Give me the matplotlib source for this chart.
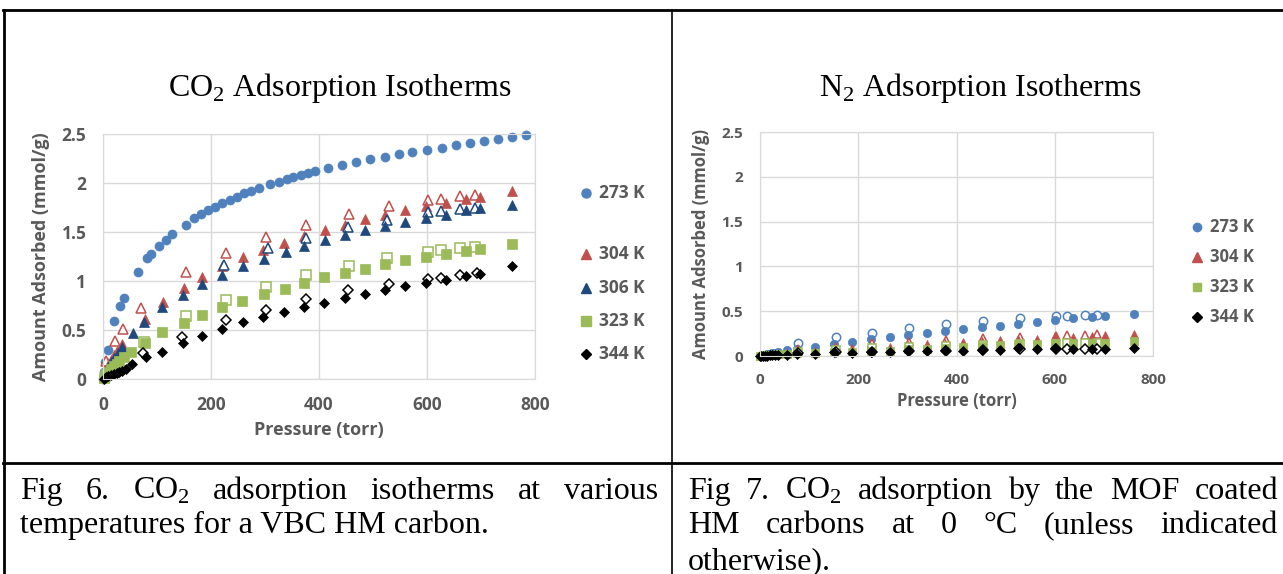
import matplotlib
matplotlib.use("Agg")
import matplotlib.pyplot as plt
from matplotlib.lines import Line2D

plt.rcParams['mathtext.fontset'] = 'custom'
plt.rcParams['mathtext.rm'] = 'Liberation Serif'

W, H = 1283, 574

# ---------- CO2 data (left chart) ----------
co2_273_p = [0, 2, 4, 10, 21, 31, 38, 64, 82, 88, 103, 116, 128, 153, 169, 181, 195, 208, 221, 235, 248,
             261, 274, 288, 310, 325, 340, 352, 366, 380, 392, 417, 443, 469, 495, 522, 548, 573, 600,
             627, 653, 680, 705, 732, 758, 784]
co2_273_q = [0.0, 0.07, 0.17, 0.30, 0.59, 0.74, 0.83, 1.09, 1.23, 1.28, 1.36, 1.42, 1.48, 1.57, 1.64, 1.68,
             1.72, 1.76, 1.80, 1.83, 1.86, 1.90, 1.92, 1.95, 1.99, 2.01, 2.04, 2.06, 2.08, 2.10, 2.12, 2.15,
             2.18, 2.21, 2.24, 2.27, 2.30, 2.32, 2.34, 2.36, 2.39, 2.41, 2.43, 2.45, 2.47, 2.49]

co2_304_p = [1, 3, 6, 10, 15, 20, 26, 36, 77, 112, 150, 183, 221, 259, 296, 336, 372, 411, 448, 485, 522,
             560, 598, 635, 672, 699, 758]
co2_304_q = [0.02, 0.05, 0.09, 0.14, 0.19, 0.24, 0.29, 0.36, 0.61, 0.79, 0.93, 1.04, 1.15, 1.24, 1.32, 1.39,
             1.46, 1.52, 1.57, 1.63, 1.67, 1.72, 1.77, 1.80, 1.84, 1.86, 1.92]
co2_304o_p = [5, 22, 37, 71, 153, 227, 301, 376, 455, 530, 602, 626, 662, 689]
co2_304o_q = [0.18, 0.39, 0.51, 0.72, 1.09, 1.29, 1.45, 1.57, 1.68, 1.77, 1.83, 1.84, 1.87, 1.88]

co2_306_p = [1, 3, 6, 10, 15, 20, 27, 35, 56, 76, 110, 149, 183, 221, 259, 298, 338, 372, 411, 448, 485,
             522, 560, 598, 635, 673, 699, 758]
co2_306_q = [0.02, 0.04, 0.08, 0.12, 0.17, 0.21, 0.27, 0.33, 0.47, 0.58, 0.73, 0.86, 0.97, 1.06, 1.15, 1.22,
             1.30, 1.36, 1.42, 1.47, 1.52, 1.56, 1.60, 1.64, 1.67, 1.72, 1.74, 1.78]
co2_306o_p = [224, 306, 376, 454, 525, 602, 625, 661, 689]
co2_306o_q = [1.16, 1.34, 1.44, 1.55, 1.62, 1.70, 1.71, 1.73, 1.75]

co2_323_p = [1, 3, 6, 10, 15, 20, 25, 30, 38, 52, 78, 110, 150, 183, 220, 258, 298, 337, 372, 410, 448,
             485, 522, 560, 598, 635, 673, 699, 758]
co2_323_q = [0.01, 0.03, 0.05, 0.07, 0.10, 0.13, 0.15, 0.18, 0.22, 0.28, 0.37, 0.48, 0.57, 0.65, 0.73, 0.80,
             0.87, 0.92, 0.98, 1.04, 1.08, 1.12, 1.17, 1.21, 1.25, 1.28, 1.31, 1.33, 1.38]
co2_323o_p = [75, 153, 227, 301, 376, 455, 525, 602, 626, 662, 689]
co2_323o_q = [0.38, 0.64, 0.81, 0.94, 1.06, 1.15, 1.23, 1.30, 1.32, 1.34, 1.35]

co2_344_p = [1, 3, 6, 10, 15, 20, 25, 30, 36, 42, 54, 80, 109, 149, 184, 221, 259, 296, 336, 372, 410,
             448, 485, 522, 560, 598, 635, 673, 699, 758]
co2_344_q = [0.0, 0.01, 0.02, 0.03, 0.04, 0.05, 0.06, 0.07, 0.08, 0.10, 0.15, 0.22, 0.28, 0.37, 0.44, 0.51,
             0.58, 0.63, 0.68, 0.73, 0.78, 0.83, 0.87, 0.91, 0.95, 0.98, 1.01, 1.05, 1.07, 1.15]
co2_344o_p = [74, 147, 227, 301, 376, 454, 530, 602, 626, 662, 692]
co2_344o_q = [0.27, 0.43, 0.60, 0.70, 0.82, 0.91, 0.97, 1.02, 1.03, 1.06, 1.08]

# ---------- N2 data (right chart) ----------
n2_p = [0, 3, 6, 10, 15, 20, 25, 30, 37, 54, 75, 112, 151, 188, 226, 264, 302, 339, 376, 414, 451, 488,
        525, 563, 600, 637, 675, 702, 761]
n2_273_q = [0, 0.005, 0.01, 0.015, 0.02, 0.025, 0.03, 0.035, 0.04, 0.07, 0.08, 0.10, 0.13, 0.16, 0.19,
            0.21, 0.23, 0.26, 0.28, 0.30, 0.32, 0.34, 0.36, 0.38, 0.40, 0.42, 0.43, 0.45, 0.47]
n2_304_q = [0, 0.003, 0.006, 0.01, 0.013, 0.016, 0.02, 0.023, 0.027, 0.035, 0.05, 0.06, 0.08, 0.09, 0.10,
            0.10, 0.12, 0.13, 0.14, 0.16, 0.17, 0.18, 0.19, 0.19, 0.22, 0.21, 0.22, 0.23, 0.25]
n2_323_q = [0, 0.002, 0.004, 0.006, 0.008, 0.01, 0.012, 0.014, 0.017, 0.022, 0.03, 0.03, 0.05, 0.05, 0.06,
            0.06, 0.08, 0.08, 0.09, 0.10, 0.11, 0.12, 0.13, 0.13, 0.14, 0.14, 0.15, 0.15, 0.17]
n2_344_q = [0, 0.001, 0.002, 0.004, 0.005, 0.006, 0.008, 0.009, 0.01, 0.015, 0.02, 0.02, 0.05, 0.03, 0.05,
            0.04, 0.06, 0.06, 0.07, 0.06, 0.07, 0.07, 0.09, 0.08, 0.085, 0.075, 0.08, 0.08, 0.09]
n2o_p = [78, 154, 228, 303, 378, 453, 529, 602, 624, 661, 686]
n2_273o_q = [0.15, 0.21, 0.26, 0.31, 0.36, 0.39, 0.42, 0.45, 0.45, 0.46, 0.46]
n2_304o_q = [0.08, 0.10, 0.14, 0.16, 0.18, 0.20, 0.21, 0.22, 0.23, 0.23, 0.24]
n2_323o_q = [0.05, 0.07, 0.09, 0.10, 0.11, 0.12, 0.13, 0.13, 0.14, 0.14, 0.15]
n2_344o_q = [0.03, 0.04, 0.05, 0.06, 0.06, 0.07, 0.08, 0.08, 0.08, 0.08, 0.08]

BLUE = '#4F81BD'
RED = '#C0504D'
NAVY = '#1F497D'
GREEN = '#9BBB59'
BLACK = '#000000'
GRAY = '#595959'
GRID = '#D9D9D9'
AXFONT = 'Open Sans'
SERIF = 'Liberation Serif'


def fx(px):
    return px / W


def fy(py):
    return 1 - py / H


def style_axes(ax, fs, pad):
    ax.set_xlim(0, 800)
    ax.set_ylim(0, 2.5)
    ax.set_xticks([0, 200, 400, 600, 800])
    ax.set_yticks([0, 0.5, 1, 1.5, 2, 2.5])
    ax.set_yticklabels(['0', '0.5', '1', '1.5', '2', '2.5'])
    ax.grid(True, color=GRID, linewidth=1)
    ax.set_axisbelow(True)
    for s in ax.spines.values():
        s.set_color(GRID)
    ax.tick_params(length=0, labelsize=fs, labelcolor=GRAY, pad=pad)
    for lab in ax.get_xticklabels() + ax.get_yticklabels():
        lab.set_fontfamily(AXFONT)
        lab.set_fontweight('bold')


def pts(ax, x, y, marker, color, ms, hollow=False):
    if hollow:
        ax.plot(x, y, linestyle='none', marker=marker, markersize=ms, markerfacecolor='white',
                markeredgecolor=color, markeredgewidth=1.1, clip_on=False)
    else:
        ax.plot(x, y, linestyle='none', marker=marker, markersize=ms, markerfacecolor=color,
                markeredgecolor=color, markeredgewidth=0.5, clip_on=False)


def legend_entry(fig, x, y, marker, color, ms, label, fs):
    fig.add_artist(Line2D([fx(x)], [fy(y)], marker=marker, markersize=ms, color=color,
                          linestyle='none', transform=fig.transFigure))
    fig.text(fx(x + 13), fy(y), label, fontsize=fs, fontweight='bold', color=GRAY,
             family=AXFONT, va='center', ha='left')


def justify(fig, words, x0, x1, y, fs):
    texts = [fig.text(0, fy(y), w, fontsize=fs, family=SERIF, va='baseline') for w in words]
    renderer = fig.canvas.get_renderer()
    widths = [t.get_window_extent(renderer).width for t in texts]
    gap = (x1 - x0 - sum(widths)) / max(len(words) - 1, 1)
    x = x0
    for t, w in zip(texts, widths):
        t.set_x(fx(x))
        x += w + gap


fig = plt.figure(figsize=(W / 100, H / 100), dpi=100)

# ---------- left chart ----------
ax1 = fig.add_axes([fx(103), fy(379), fx(535) - fx(103), fy(134) - fy(379)])
style_axes(ax1, 12.5, 12)
pts(ax1, co2_273_p, co2_273_q, 'o', BLUE, 6.5)
pts(ax1, co2_304o_p, co2_304o_q, '^', RED, 7, hollow=True)
pts(ax1, co2_304_p, co2_304_q, '^', RED, 7.5)
pts(ax1, co2_306o_p, co2_306o_q, '^', NAVY, 7, hollow=True)
pts(ax1, co2_306_p, co2_306_q, '^', NAVY, 7.5)
pts(ax1, co2_323o_p, co2_323o_q, 's', GREEN, 6.5, hollow=True)
pts(ax1, co2_323_p, co2_323_q, 's', GREEN, 6.5)
pts(ax1, co2_344o_p, co2_344o_q, 'D', BLACK, 5.5, hollow=True)
pts(ax1, co2_344_p, co2_344_q, 'D', BLACK, 5.5)
ax1.set_xlabel('Pressure (torr)', fontsize=13, fontweight='bold', color=GRAY, family=AXFONT, labelpad=5)
ax1.set_ylabel('Amount Adsorbed (mmol/g)', fontsize=13, fontweight='bold', color=GRAY, family=AXFONT,
               labelpad=8)
fig.text(fx(340), fy(88), 'CO$_\\mathrm{2}$ Adsorption Isotherms', fontsize=23, family=SERIF,
         ha='center', va='center')

legend_entry(fig, 586, 193, 'o', BLUE, 6.5, '273 K', 12.5)
legend_entry(fig, 586, 254, '^', RED, 7, '304 K', 12.5)
legend_entry(fig, 586, 288, '^', NAVY, 7, '306 K', 12.5)
legend_entry(fig, 586, 321, 's', GREEN, 6.5, '323 K', 12.5)
legend_entry(fig, 586, 354, 'D', BLACK, 5.5, '344 K', 12.5)

# ---------- right chart ----------
ax2 = fig.add_axes([fx(760), fy(356), fx(1153) - fx(760), fy(132) - fy(356)])
style_axes(ax2, 11, 12)
pts(ax2, n2o_p, n2_273o_q, 'o', BLUE, 6, hollow=True)
pts(ax2, n2_p, n2_273_q, 'o', BLUE, 6)
pts(ax2, n2o_p, n2_304o_q, '^', RED, 6, hollow=True)
pts(ax2, n2_p, n2_304_q, '^', RED, 6)
pts(ax2, n2o_p, n2_323o_q, 's', GREEN, 5.5, hollow=True)
pts(ax2, n2_p, n2_323_q, 's', GREEN, 5.5)
pts(ax2, n2o_p, n2_344o_q, 'D', BLACK, 5, hollow=True)
pts(ax2, n2_p, n2_344_q, 'D', BLACK, 5)
ax2.set_xlabel('Pressure (torr)', fontsize=12, fontweight='bold', color=GRAY, family=AXFONT, labelpad=4)
ax2.set_ylabel('Amount Adsorbed (mmol/g)', fontsize=12, fontweight='bold', color=GRAY, family=AXFONT,
               labelpad=8)
fig.text(fx(980), fy(88), 'N$_\\mathrm{2}$ Adsorption Isotherms', fontsize=23, family=SERIF,
         ha='center', va='center')

legend_entry(fig, 1197, 227, 'o', BLUE, 6, '273 K', 12)
legend_entry(fig, 1197, 257, '^', RED, 6.5, '304 K', 12)
legend_entry(fig, 1197, 287, 's', GREEN, 6, '323 K', 12)
legend_entry(fig, 1197, 317, 'D', BLACK, 5, '344 K', 12)

# ---------- table lines ----------
for xs, ys, lw in [([3, W], [10, 10], 2), ([4, 4], [10, H], 2), ([672, 672], [10, H], 1.2),
                   ([3, W], [463, 463], 2)]:
    fig.add_artist(Line2D([fx(v) for v in xs], [fy(v) for v in ys], color='black', linewidth=lw,
                          transform=fig.transFigure))

# ---------- captions ----------
CAP = 23
justify(fig, ['Fig', '6.', 'CO$_\\mathrm{2}$', 'adsorption', 'isotherms', 'at', 'various'], 20, 658, 499, CAP)
fig.text(fx(20), fy(533), 'temperatures for a VBC HM carbon.', fontsize=CAP, family=SERIF, va='baseline')
justify(fig, ['Fig', '7.', 'CO$_\\mathrm{2}$', 'adsorption', 'by', 'the', 'MOF', 'coated'], 688, 1278, 499, CAP)
justify(fig, ['HM', 'carbons', 'at', '0', '°C', '(unless', 'indicated'], 688, 1278, 533, CAP)
fig.text(fx(688), fy(569), 'otherwise).', fontsize=CAP, family=SERIF, va='baseline')

fig.savefig('out.png', dpi=100)
